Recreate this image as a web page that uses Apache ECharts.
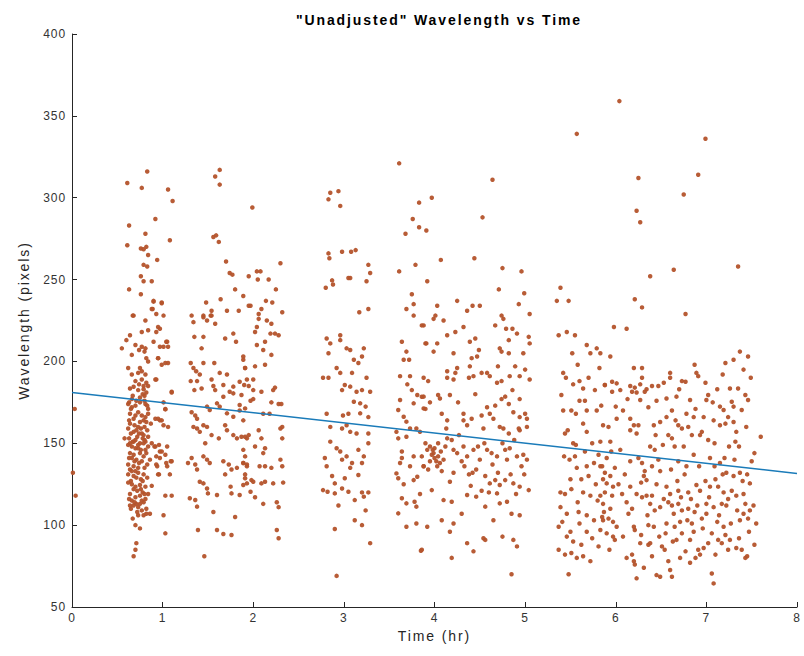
<!DOCTYPE html>
<html>
<head>
<meta charset="utf-8">
<title>"Unadjusted" Wavelength vs Time</title>
<script src="https://cdn.jsdelivr.net/npm/echarts@6/dist/echarts.min.js"></script>
<style>
  html, body { margin: 0; padding: 0; background: #ffffff; }
  #chart { width: 804px; height: 656px; }
  /* wide tracking of the figure's lettering */
  #chart text[style*="bold"] { letter-spacing: 2px; }
  #chart text[style*="14px"] { letter-spacing: 1.9px; }
  #chart text[style*="12px"] { letter-spacing: 0.9px; }
</style>
</head>
<body>
<div id="chart"></div>
<script>
// Time (hr) / wavelength (pixels) samples, grouped by recording session
const sessionStart = [[0.03,171],[0.01,132],[0.04,118]];

const session1 = [
  [0.83,316],[0.61,309],[0.77,306],[1.06,305],[1.11,298],[0.92,287],[0.63,283],[0.81,278],[0.61,271],[1.08,274],
  [0.76,269],[0.79,268.5],[0.82,270],[0.84,265],[0.94,262],[0.79,259],[0.83,258],[0.76,252],[0.79,249],[0.88,249],
  [0.63,244],[0.76,241],[0.90,237],[0.99,236],[0.89,232],[0.93,229],[1.01,228],[0.67,228],
  [0.90,236.5],[0.99,235.5],[0.88,232],[0.68,228],[0.81,225],[0.95,221],[0.84,219],[0.77,218],[0.93,218],[0.97,220],
  [0.64,216],[0.60,213],[0.55,208],[0.70,210],[0.74,207],[0.77,209],[0.80,206],[0.81,208],[0.90,212],[1.05,212],
  [1.06,209],[1.01,209],[0.66,204],[0.82,202],[0.84,200],[0.95,202],[1.03,199],[0.99,198],[0.75,196],[0.77,194],
  [0.81,192],[0.77,189],[0.82,187],[0.84,185],[0.79,183],[0.82,181],[0.80,179],[0.93,189],[0.64,183.5],[0.68,184.5],
  [0.73,182.5],[0.75,178],[1.10,181.5],[0.62,174],[0.70,173],[0.75,175],[0.81,174],[0.84,171],[0.73,169],[0.77,167],
  [0.81,166],[0.84,168],[1.03,171],[0.64,168],[0.68,165],[0.92,165],[0.97,164],[1.01,161],[1.06,160],[0.64,162],
  [0.62,159],[0.68,157],[0.73,160],[0.77,156],[0.84,154],[0.58,153],[0.70,152],[0.75,150],[0.81,151],[0.66,148],
  [0.73,147],[0.84,148],[0.91,148],[1.05,148],
  [0.64,150],[0.68,151],[0.73,149],[0.79,150],[0.80,152],[0.92,148],[0.97,145],[1.03,143],[0.64,144],[0.68,143],
  [0.75,144],[0.79,142],[0.93,137],[1.05,136],[1.10,139],[0.62,137],[0.68,136],[0.73,135],[0.62,131],[0.68,130],
  [0.73,132],[0.79,131],[0.95,131],[1.08,131],[0.66,125],[0.70,123.5],[0.75,124.5],[0.81,123.5],[0.64,119],[0.70,117],
  [0.75,118],[0.81,116],[0.84,119],[1.03,118],[1.10,118],[0.68,112],[0.73,111],[0.77,109],[0.82,110],[1.01,106],
  [0.70,100],[0.75,98],[1.03,95],[0.71,89],[0.70,85],[0.68,81],
  [0.65,171],[0.63,175],[0.66,177],[0.79,164],[0.82,163],[0.71,158],[0.63,153],[0.67,151],[0.72,154],[0.78,153],
  [0.81,146],[0.66,141],[0.71,140],[0.77,139],[0.83,137],[0.64,134],[0.70,133],[0.76,128],[0.65,127],[0.72,121],
  [0.78,120],[0.66,115],[0.71,113],[0.79,114],[0.82,107],[0.86,107],[0.73,106],[0.65,110],[0.96,149],[0.99,145],
  [0.93,142],[0.97,141],[1.04,138],[1.09,139],[0.94,136],[0.96,131],[0.95,165],[0.99,164],[1.01,175],[1.03,170.7],
  [1.10,181],[0.92,189],[0.97,209],[1.04,212],[1.06,199],[0.95,202],[0.73,193],[0.79,185],
  [0.62,196],[0.66,192],[0.70,188],[0.74,186],[0.78,180],[0.67,179],[0.71,176],[0.80,176],[0.83,173],[0.66,172],
  [0.70,167],[0.75,163],[0.80,160],[0.63,164],[0.69,161],[0.76,159],[0.83,158],[0.65,156],[0.74,156],[0.79,155],
  [0.62,149],[0.70,147],[0.76,146],[0.82,144],[0.63,141],[0.69,139],[0.74,138],[0.80,135],[0.66,133],[0.71,129],
  [0.78,127],[0.83,129],[0.62,126],[0.68,122],[0.76,122],[0.80,119],[0.63,116],[0.69,114],[0.75,113],[0.77,115],
  [0.64,112],[0.72,108],[0.79,106],[0.67,104],[0.88,150],[0.87,162],[0.86,140],[0.88,124]
];

const session2 = [
  [1.63,317],[1.58,313],[1.63,308],[1.56,276],[1.59,277],[1.62,273],[1.70,261],[1.74,254],[1.77,253],[1.95,252],
  [1.80,244],[1.89,240],[1.64,238],[1.48,236],[1.71,231],[1.84,231],[1.95,234],[1.45,228],[1.53,228],[1.54,231],
  [1.99,294],[2.30,260],[2.04,255],[2.08,255],[2.05,250],[2.17,250],[2.25,244],[2.14,237],[2.21,236],[1.97,234],
  [2.09,232],[2.06,229],[2.32,230],
  [1.32,228],[1.34,224],[1.45,227],[1.49,225],[1.54,228],[1.58,223],[1.45,215],[1.35,215],[1.43,208],[1.69,214],
  [1.78,217],[1.81,212],[1.89,203],[1.57,199],[1.31,199],[1.34,196],[1.37,194],[1.41,192],[1.31,188],[1.38,188],
  [1.35,182.5],[1.45,199],[1.54,189],[1.63,193],[1.71,192],[1.43,183.5],[1.56,185],[1.67,185.6],[1.78,184.6],[1.85,187.6],
  [1.90,185.6],[1.91,196],
  [1.28,138],[1.32,141],[1.36,137],[1.38,134],[1.34,160],[1.38,159],[1.41,157],[1.32,169],[1.36,167],[1.38,165],
  [1.45,161],[1.49,160],[1.47,150],[1.54,155],[1.62,153],[1.45,142],[1.49,140],[1.52,138],[1.67,139],[1.73,137],
  [1.69,161],[1.71,158],[1.78,155],[1.82,153],[1.87,154],[1.93,153],[1.89,146],[1.91,142],[1.89,138],[1.76,134],
  [1.82,135],[1.93,136],[1.41,126.5],[1.45,125.5],[1.49,122.4],[1.50,119.4],[1.60,118.4],[1.69,131],[1.75,123.5],[1.76,119.4],
  [1.85,118.4],[1.91,128.6],[1.93,125.5],[1.30,116.4],[1.36,115.4],[1.38,111.3],[1.39,97],[1.56,108],[1.60,97],[1.67,94.6],
  [1.76,94],[1.80,105],[1.49,172.4],[1.52,170.3],[1.60,174.4],[1.63,172.4],[1.71,168.3],[1.78,166.2],[1.85,173.4],[1.91,171.3],
  [1.58,182.5],[1.67,178.4],[1.87,179.5],[1.74,181.5],[1.78,180.5],[1.46,81],
  [2.06,226],[2.15,225],[2.20,223],[2.04,221],[2.02,218],[2.19,217],[2.24,217],[2.28,216],[2.13,212],[2.04,210],
  [2.11,207],[2.20,204],[1.89,201],[1.91,196],[2.02,197],[2.13,198],[1.93,189],[2.00,189],[1.95,185],[2.00,182.5],
  [2.09,181.5],[2.22,182.5],[2.24,184],[1.97,176],[2.00,177],[2.20,175],[2.28,174],[2.31,174],[2.11,168],[2.18,168],
  [1.85,170],[1.89,164],[1.91,154],[1.95,155],[2.06,158],[2.09,153],[2.30,159],[2.32,160],[2.02,148],[2.13,147],
  [2.11,144],[2.32,153],[1.89,138],[1.93,137],[2.07,136],[2.13,136],[2.20,135],[2.30,140],[2.32,136],[1.91,131],
  [1.98,127.5],[2.00,126.5],[2.09,125.5],[2.13,126.5],[2.22,125.5],[2.33,126],[1.89,124.5],[1.97,120.4],[2.11,113],[2.26,114],
  [2.28,111],[2.02,117],[2.26,97],[2.28,92]
];

const session3 = [
  [2.85,303],[2.94,304],[2.83,299],[2.96,295],[2.83,266],[2.98,267],[3.08,267],[3.13,268],[2.84,263],[3.27,259],
  [3.29,254],[3.25,249],[3.05,251],[3.07,251],[2.87,249.5],[2.88,247],[2.80,245],[3.17,230],[3.27,232],
  [2.81,214],[2.85,211],[2.83,205],[2.96,216],[2.96,213],[3.03,208],[3.07,207],[3.11,201],[3.16,199],[3.20,203],
  [3.22,208],[2.77,190],[2.83,190],[2.92,196],[2.96,193],[3.09,193],[3.25,190],[2.98,182.5],[3.01,185.6],[3.07,184.6],
  [3.14,181.5],[3.20,182.5],[3.29,181.5],[3.11,175.4],[3.18,174.4],[3.24,172.4],[2.81,168],[2.99,167],[3.05,168],[3.18,168.3],
  [3.27,166],[2.85,160],[2.98,159],[3.03,161],[3.07,157],[3.14,156],[3.27,156],[2.85,151],[2.92,147],[2.96,145],
  [3.03,142],[2.98,140],[3.16,146],[3.27,150],[3.22,142],[3.20,138],[3.09,138],[3.07,135],[2.79,141],[2.81,136],
  [2.87,130],[2.90,125.5],[3.01,128.6],[3.16,130.6],[2.77,121.4],[2.82,120.4],[2.90,119.4],[2.98,122.4],[3.05,120.4],[3.12,115.3],
  [3.22,117.4],[3.20,120],[3.27,120],[2.94,112],[3.24,109],[3.12,103],[3.20,100],[2.90,97.6],[3.29,89],[2.92,69]
];

const session4 = [
  [3.61,321],[3.83,297],[3.76,287],[3.83,282],[3.91,280],[3.68,278],[3.61,255],[3.79,259],[3.92,249],[3.75,241],
  [3.77,235],[3.69,232],[3.77,228],
  [4.64,311],[3.97,300],[4.53,288],[4.07,262],[4.44,263],[4.75,257],[4.96,255],[4.71,244],[4.99,241.6],[4.25,237],
  [4.03,234],[4.42,234],[4.50,234],[4.36,231],[4.93,235],[4.74,228],[5.05,229],[4.01,228],
  [3.64,212],[3.69,206],[3.66,201],[3.72,201],[3.86,222],[3.91,211],[3.62,191],[3.73,191],[3.75,182.5],[3.81,179.5],
  [3.77,174.4],[3.86,178.4],[3.88,171.3],[3.62,176.4],[3.60,170.3],[3.66,166.2],[3.69,163.2],[3.73,159],[3.80,159],[3.58,157],
  [3.60,153],[3.69,154],[3.90,150],[3.92,146],[3.64,145],[3.64,141],[3.77,142],[3.86,142],[3.62,138],[3.88,136],
  [3.58,131.6],[3.60,128.6],[3.77,127.5],[3.81,129.6],[3.64,116.4],[3.69,113.3],[3.78,114.3],[3.80,111.3],[3.60,107.2],[3.69,99],
  [3.80,101],[3.85,84.4],
  [3.99,226],[4.10,225],[3.88,222],[4.14,216],[4.23,218],[4.32,221],[3.90,211],[4.03,211],[3.99,206],[4.21,205],
  [4.39,212],[4.45,214],[4.67,222],[4.76,226],[4.79,220],[4.86,220],[4.91,217],[4.82,213],[5.04,215],[5.05,211],
  [4.72,208],[4.74,206],[4.82,205],[4.41,202],[4.47,203],[4.39,197],[4.38,190],[4.14,194],[4.23,193],[4.14,190],
  [4.21,189],[4.43,191],[4.52,193],[4.58,193],[4.61,191],[4.69,187],[4.74,188],[4.83,191],[4.89,197],[4.94,191],
  [5.00,195],[5.05,189],[3.88,190],[3.93,188],[3.88,178.5],[3.90,171],[4.04,179.5],[4.06,177.4],[4.17,179.5],[4.32,168],
  [4.32,164],[4.41,165],[4.36,161],[4.52,167],[4.61,168],[4.65,165],[4.67,173],[4.74,177],[4.78,178.5],[4.82,174],
  [4.86,182.5],[4.94,177],[4.87,169],[4.94,166],[5.00,168],[5.02,165],[4.72,160],[4.76,159],[4.82,156],[4.93,159],
  [4.94,158],[5.02,160],[4.14,164],[4.13,159],[4.54,159],[3.84,157],[3.95,148],[3.99,144],[4.04,142],[4.06,138],
  [4.10,140],[4.14,153],[4.19,152],[4.21,146],[4.25,144],[4.32,148],[4.36,142],[4.43,146],[4.48,148],[4.58,146],
  [4.63,144],[4.69,142],[4.78,146],[4.83,147],[4.91,142],[4.98,143],[5.02,140],[3.88,136],[3.93,134],[4.21,132],
  [4.17,126.5],[4.33,136],[4.42,132],[4.46,134],[4.56,130],[4.61,125.5],[4.67,127.5],[4.72,124.5],[4.78,127.5],[3.97,121.4],
  [4.10,115.3],[4.19,114.3],[4.36,118.4],[4.46,117.4],[4.56,111.3],[4.69,119.4],[4.72,113.3],[4.80,114.3],[4.87,125.5],[4.94,123.5],
  [5.04,121.4],[4.85,107],[4.94,106],[4.08,103],[4.21,101],[4.17,96],[4.56,91],[4.54,92],[4.36,89],[4.43,84],
  [4.19,80],[4.87,91],[4.91,87],[3.86,85],[4.85,70],
  [4.00,141],[4.02,139],[3.98,146],[4.07,145],[4.04,150],
  [3.95,139],[3.97,143],[4.00,147],[4.03,136],[4.08,133],[4.12,148],[4.27,155],[4.30,139],[4.38,131],[4.50,140],
  [4.55,150],[4.60,120],[4.64,137],[4.70,132],[4.75,150],[4.80,140],[4.84,131],[4.88,152],[4.90,119],[4.96,136],
  [4.99,131],[4.26,175],[4.45,180],[4.58,172],[4.70,197],[4.98,205],[3.95,175],[4.08,168],[4.25,196],[4.49,207],
  [3.70,186],[3.66,125],[3.73,136],[3.84,119],[3.92,99],[4.30,107],[4.65,103],[4.75,93],[4.40,124],[4.52,121]
];

const session5 = [
  [5.57,339],[5.39,245],[5.35,237],[5.48,237],
  [6.04,359],[6.99,336],[6.25,312],[6.91,314],[6.75,302],[6.23,292],[6.27,285],[6.64,256],[7.35,258],[6.38,252],
  [6.21,238],[6.29,233],[6.77,229],
  [5.37,216],[5.46,218],[5.55,216],[5.68,210],[5.72,205],[5.79,208],[5.42,193],[5.53,186],[5.60,188],[5.64,183.5],
  [5.77,182.5],[5.88,185.6],[5.40,179.5],[5.51,170],[5.56,168],[5.60,176],[5.68,170],[5.79,170],[5.84,173],[5.64,162],
  [5.68,157],[5.44,156],[5.53,150],[5.56,149],[5.43,142],[5.49,140],[5.57,135],[5.68,136],[5.76,138],[5.85,136],
  [5.39,120],[5.44,119],[5.51,122],[5.64,120],[5.72,118],[5.83,118],[5.88,120],[5.39,111],[5.46,107],[5.59,108],
  [5.68,106],[5.76,103],[5.85,105],[5.37,99],[5.46,93],[5.53,90],[5.60,101],[5.68,96],[5.37,85],[5.44,82],
  [5.51,83],[5.57,80],[5.64,81],[5.72,78],[5.48,70],[5.81,87],
  [5.98,221],[6.12,220],[5.83,205],[5.94,203],[6.20,196],[6.29,196],[6.60,193],[6.60,190],[6.89,193],[6.91,191],
  [6.73,188],[6.77,187.6],[6.87,198],[7.21,199],[7.30,201],[7.37,206],[7.46,203],[7.41,195],[7.18,192],[5.88,185.6],
  [5.96,187.6],[6.01,186.6],[6.16,185],[6.21,184],[6.27,186],[6.34,183],[6.40,185],[6.47,185],[6.29,190],[5.96,181.5],
  [6.05,182.5],[6.18,181.5],[6.23,181],[6.32,181.5],[7.02,179.5],[7.00,176.4],[7.26,183.5],[7.35,183.5],[6.27,176.4],[6.56,177.4],
  [6.67,178.5],[6.82,176.4],[7.15,172.4],[7.19,170.3],[7.28,175.4],[7.30,172.4],[7.39,170.3],[7.43,179.5],[7.46,176.4],[6.00,172.4],
  [6.01,165],[6.16,165],[6.20,161],[6.25,161],[6.42,161],[6.49,163],[6.56,166],[6.66,164],[6.69,161],[6.73,159],
  [6.78,168],[6.86,166],[6.97,166],[6.84,155],[6.93,155],[6.95,157],[7.08,164],[7.15,161],[7.21,162],[7.30,163],
  [5.86,161],[5.92,160],[5.83,151],[5.94,151],[6.16,158],[6.23,156],[6.38,148],[6.43,146],[6.58,155],[6.62,153],
  [6.65,148],[6.75,148],[7.02,152],[7.09,150],[7.25,148],[7.32,151],[7.36,148],[7.53,144],[7.60,154],[6.16,139],
  [6.29,138],[6.40,136],[6.32,133],[6.31,130],[6.34,127.5],[6.49,133],[6.69,139],[6.78,136],[7.04,141],[7.09,136],
  [7.15,138],[7.22,132],[7.30,130],[7.37,132],[7.45,131],[5.83,136],[5.88,132],[5.94,130],[5.99,135],[5.90,125.5],
  [5.97,123.5],[5.96,118],[6.07,119],[6.16,123.5],[6.23,119],[6.29,117],[6.40,118],[6.56,123.5],[6.60,119],[6.69,121],
  [6.80,120],[6.89,124.5],[6.93,121],[7.04,123.5],[7.13,123.5],[7.19,120],[7.28,121],[7.41,119],[7.48,125.5],[5.86,113],
  [5.94,110],[6.18,110],[6.14,107],[6.38,113],[6.43,109],[6.49,111],[6.58,114],[6.62,112],[6.69,113],[6.73,109],
  [6.80,110],[6.87,108],[7.00,113],[7.08,111],[7.17,113],[7.22,112],[7.34,109],[7.41,107],[7.37,103],[7.46,104],
  [7.55,101],[5.97,102],[6.01,99],[6.20,99],[6.21,97],[6.36,100],[6.42,99],[6.56,101],[6.65,99],[6.71,102],
  [6.84,101],[6.95,104],[7.00,107],[7.12,102],[7.19,99],[5.97,93],[5.99,91],[6.27,89],[6.36,88],[6.38,89],
  [6.51,87],[6.54,85],[6.67,91],[6.73,95],[6.82,91],[6.91,85],[6.97,86],[6.93,82],[6.88,80],[7.13,91],
  [7.17,89],[7.26,91],[7.24,85],[7.39,85],[7.45,81],[7.43,80],[7.53,88],[6.18,82],[6.20,78],[6.21,76],
  [6.31,74],[6.23,67.5],[6.45,69.5],[6.49,68.5],[6.60,72.6],[6.62,68.5],[6.71,80],[6.82,77],[7.06,70.5],[7.08,64.4],
  [5.86,103],[5.92,104],[5.83,97],[5.90,95],
  [6.05,146],[6.10,131],[6.12,114],[6.25,141],[6.28,126],[6.35,106],[6.45,125],[6.47,140],[6.52,149],[6.53,116],
  [6.55,95],[6.61,134],[6.64,107],[6.68,127],[6.72,117],[6.76,131],[6.79,103],[6.83,116],[6.86,143],[6.90,112],
  [6.92,136],[6.96,98],[6.99,127],[7.03,117],[7.06,95],[7.10,128],[7.14,106],[7.18,131],[7.20,141],[7.24,116],
  [7.27,101],[7.31,140],[7.33,118],[7.36,92],[7.40,127],[7.43,113],[7.47,96],[7.50,139],[7.52,112],[6.08,170],
  [6.13,177],[6.36,172],[6.45,176],[6.53,187],[6.62,170],[6.70,183],[6.80,160],[6.88,171],[6.99,187],[7.07,175],
  [7.12,183],[7.24,166],[7.33,157],[7.44,160],[7.49,190],[5.90,141],[5.95,145],[6.03,125],[5.87,108],[5.93,85],
  [6.08,93],[6.12,80],[6.28,94],[6.40,81],[6.58,78],[6.63,90],[6.77,84],[6.86,96],[7.02,89],[7.10,82],
  [7.21,94],[7.33,86],[7.48,109],[6.48,93],[6.34,118],[6.44,155],
  [5.42,170],[5.47,158],[5.50,128],[5.55,142],[5.58,114],[5.62,128],[5.66,145],[5.70,130],[5.74,150],[5.78,125],
  [5.81,143],[5.86,128],[5.41,102],[5.50,96],[5.62,88],[5.74,92],[5.80,115],[5.45,190],[5.58,198],[5.70,190],
  [5.82,196],[5.52,205],[5.66,176]
];

// Least-squares trend line end points
const fitLine = [[0, 181], [8, 131.6]];

const xTicks = { min: 0, max: 8, interval: 1 };
const yTicks = { min: 50, max: 400, interval: 50 };

const samples = [].concat(sessionStart, session1, session2, session3, session4, session5);

const axisColor = '#262626';
const labelFont = 'Liberation Sans, Arial, Helvetica, sans-serif';

const chart = echarts.init(document.getElementById('chart'), null, { renderer: 'svg' });
chart.setOption({
  animation: false,
  backgroundColor: '#ffffff',
  title: {
    text: '"Unadjusted" Wavelength vs Time',
    left: 434,
    top: 8,
    textAlign: 'center',
    textStyle: { fontFamily: labelFont, fontSize: 14, fontWeight: 'bold', color: '#000' }
  },
  grid: { left: 72, right: 7, top: 34, bottom: 49, containLabel: false },
  xAxis: {
    type: 'value',
    min: xTicks.min, max: xTicks.max, interval: xTicks.interval,
    name: 'Time (hr)',
    nameLocation: 'middle',
    nameGap: 22,
    nameTextStyle: { fontFamily: labelFont, fontSize: 14, color: '#262626' },
    axisLine: { show: true, onZero: false, lineStyle: { color: axisColor, width: 1 } },
    axisTick: { show: true, inside: true, length: 5, lineStyle: { color: axisColor } },
    axisLabel: { margin: 5, fontFamily: labelFont, fontSize: 12, color: '#333' },
    splitLine: { show: false }
  },
  yAxis: {
    type: 'value',
    min: yTicks.min, max: yTicks.max, interval: yTicks.interval,
    name: 'Wavelength (pixels)',
    nameLocation: 'middle',
    nameGap: 41,
    nameTextStyle: { fontFamily: labelFont, fontSize: 14, color: '#262626' },
    axisLine: { show: true, onZero: false, lineStyle: { color: axisColor, width: 1 } },
    axisTick: { show: true, inside: true, length: 5, lineStyle: { color: axisColor } },
    axisLabel: { margin: 6, fontFamily: labelFont, fontSize: 12, color: '#333' },
    splitLine: { show: false }
  },
  series: [
    {
      type: 'scatter',
      data: samples,
      symbol: 'circle',
      symbolSize: 4.5,
      itemStyle: { color: '#b4532b', opacity: 0.95 },
      z: 2
    },
    {
      type: 'line',
      data: fitLine,
      showSymbol: false,
      lineStyle: { color: '#1a7bb9', width: 1.5 },
      z: 3
    }
  ]
});
</script>
</body>
</html>
